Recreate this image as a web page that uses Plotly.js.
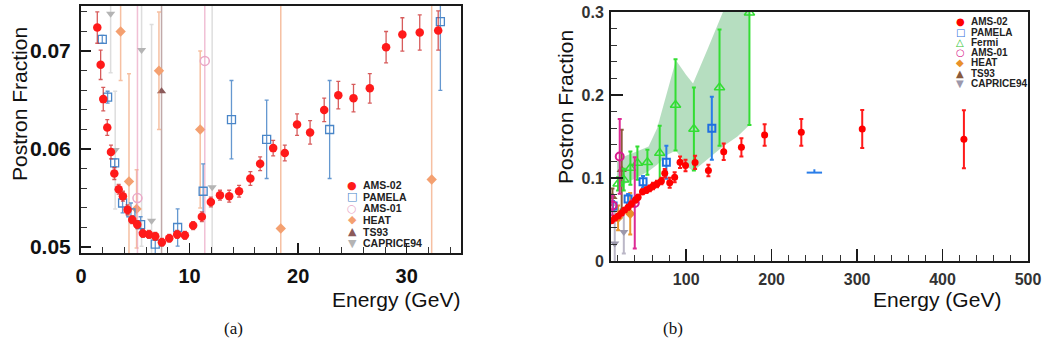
<!DOCTYPE html>
<html><head><meta charset="utf-8">
<script src="https://cdn.plot.ly/plotly-3.0.1.min.js"></script>
<style>html,body{margin:0;padding:0;background:#fff}#chart{width:1050px;height:350px}</style>
</head><body><div id="chart"></div>
<script>
// ================= Panel (a) data =================
const amsA_E   = [1.5, 1.81, 2.05, 2.42, 2.76, 3.07, 3.47, 3.86, 4.29, 4.72, 5.18, 5.7, 6.26, 6.84, 7.45, 8.13, 8.86, 9.57, 10.33, 11.13, 11.96, 12.8, 13.65, 14.56, 15.6, 16.5, 17.7, 18.77, 19.9, 21.1, 22.4, 23.7, 25.1, 26.6, 28.1, 29.6, 31.2, 32.9];
const amsA_V   = [0.0724, 0.0686, 0.0651, 0.0622, 0.0597, 0.0575, 0.0559, 0.0552, 0.0538, 0.0528, 0.0523, 0.0514, 0.0513, 0.0511, 0.0505, 0.0509, 0.0513, 0.0512, 0.0522, 0.0531, 0.0546, 0.0553, 0.0552, 0.0557, 0.0570, 0.0585, 0.0601, 0.0596, 0.0625, 0.0617, 0.0640, 0.0655, 0.0652, 0.0662, 0.0704, 0.0717, 0.0719, 0.0721];
const amsA_Err = [0.0016, 0.0015, 0.0012, 0.0008, 0.0007, 0.0006, 0.0005, 0.0005, 0.0005, 0.0004, 0.0004, 0.0004, 0.0004, 0.0004, 0.0004, 0.0004, 0.0004, 0.0004, 0.0004, 0.0005, 0.0005, 0.0005, 0.0006, 0.0006, 0.0007, 0.0007, 0.0008, 0.0008, 0.0011, 0.0012, 0.0012, 0.0014, 0.0014, 0.0015, 0.0016, 0.0017, 0.0018, 0.0020];

const pamA_E   = [1.96, 2.45, 3.1, 3.83, 4.6, 5.49, 6.84, 8.9, 11.25, 13.86, 17.1, 22.9, 33.1];
const pamA_V   = [0.0712, 0.0653, 0.0586, 0.0545, 0.0535, 0.0523, 0.0503, 0.0520, 0.0557, 0.0630, 0.0610, 0.0620, 0.0730];
const pamA_Err = [0.0004, 0.0006, 0.0004, 0.0010, 0.0010, 0.0008, 0.0011, 0.0019, 0.0028, 0.0040, 0.0040, 0.0050, 0.0070];

const ams01A_E   = [5.2, 11.4];
const ams01A_V   = [0.0550, 0.0690];
const ams01A_Err = [0.03, 0.03];

const heatA_E   = [3.65, 4.42, 5.12, 7.18, 10.98, 18.4, 32.3];
const heatA_V   = [0.0720, 0.0567, 0.0539, 0.0680, 0.0620, 0.0519, 0.0569];
const heatA_Err = [0.005, 0.011, 0.004, 0.006, 0.008, 0.03, 0.03];

const ts93A_E   = [7.42];
const ts93A_V   = [0.0659];
const ts93A_Err = [0.03];

const capA_E   = [2.73, 3.15, 5.58, 6.5, 12.08];
const capA_V   = [0.0738, 0.0599, 0.0701, 0.0527, 0.0561];
const capA_Err = [0.006, 0.006, 0.02, 0.02, 0.02];

// ================= Panel (b) data =================
const amsB_E   = [12.5, 16.4, 20.3, 24.2, 28, 32, 35.9, 40.6, 43.7, 48.8, 53.5, 57.3, 61.2, 65.8, 71, 74.9, 80.7, 86.5, 92.8, 99.2, 110.4, 126, 143.9, 164.6, 191.8, 234.7, 306, 425];
const amsB_V   = [0.0486, 0.0514, 0.0542, 0.0575, 0.0614, 0.0647, 0.0687, 0.0735, 0.0767, 0.0835, 0.0855, 0.0876, 0.0904, 0.0928, 0.0964, 0.1057, 0.0943, 0.1008, 0.119, 0.115, 0.1187, 0.109, 0.1317, 0.137, 0.1518, 0.155, 0.159, 0.1466];
const amsB_Err = [0.002, 0.002, 0.002, 0.0025, 0.0025, 0.003, 0.003, 0.003, 0.003, 0.003, 0.0035, 0.0035, 0.004, 0.004, 0.004, 0.005, 0.006, 0.006, 0.007, 0.007, 0.008, 0.007, 0.010, 0.011, 0.013, 0.016, 0.023, 0.035];

const pamB_E   = [14.4, 32, 49.5, 76.8, 130];
const pamB_V   = [0.0663, 0.0747, 0.0955, 0.119, 0.160];
const pamB_Err = [0.006, 0.006, 0.007, 0.02, 0.038];
const pamBHigh_E = [250];
const pamBHigh_V = [0.1065];
const pamBHigh_Ex = [9];
const pamBHigh_Eyp = [0.004];

const fermiB_E   = [20.3, 26.9, 34.7, 42.9, 54.6, 69, 87.5, 109, 139, 174];
const fermiB_V   = [0.093, 0.098, 0.112, 0.118, 0.119, 0.130, 0.188, 0.159, 0.209, 0.299];
const fermiB_Err = [0.008, 0.013, 0.02, 0.02, 0.015, 0.033, 0.055, 0.05, 0.07, 0.135];
const fermiBand_E  = [19, 30, 40, 56, 66, 78, 88, 100, 108, 125, 143, 160, 174];
const fermiBand_Hi = [0.120, 0.127, 0.131, 0.138, 0.160, 0.205, 0.242, 0.224, 0.214, 0.255, 0.300, 0.300, 0.300];
const fermiBand_Lo = [0.088, 0.094, 0.100, 0.108, 0.116, 0.128, 0.133, 0.115, 0.108, 0.122, 0.138, 0.150, 0.164];

const ams01B_E   = [13.7, 22.2, 39.8];
const ams01B_V   = [0.067, 0.126, 0.070];
const ams01B_Err = [0.012, 0.045, 0.055];

const heatB_E   = [20.3, 34.5];
const heatB_V   = [0.052, 0.057];
const heatB_Err = [0.015, 0.025];

const ts93B_E   = [13.7, 24.5];
const ts93B_V   = [0.0775, 0.110];
const ts93B_Err = [0.01, 0.048];

const capB_E   = [16.4, 27];
const capB_V   = [0.021, 0.035];
const capB_Err = [0.04, 0.026];

// ================= Legends (text) =================
const legendA_names  = ['AMS-02', 'PAMELA', 'AMS-01', 'HEAT', 'TS93', 'CAPRICE94'];
const legendA_glyphs = ['●', '□', '○', '◆', '▲', '▼'];
const legendA_colors = ['#ff1a1a', '#4a86c8', '#eaa6c6', '#f4a070', '#8b5a5a', '#b4b4b4'];
const legendB_names  = ['AMS-02', 'PAMELA', 'Fermi', 'AMS-01', 'HEAT', 'TS93', 'CAPRICE94'];
const legendB_glyphs = ['●', '□', '△', '○', '◆', '▲', '▼'];
const legendB_colors = ['#ff0000', '#1f6fe0', '#2fc42f', '#d81b8e', '#e8902a', '#8a5a3c', '#9c98ac'];

// ================= Build =================
const W = 1050, H = 350;
const px = v => v / W;
const py = v => 1 - v / H;

function pts(name, xs, ys, errs, axes, marker, errColor, errThick, errWidth) {
  return {
    type: 'scatter', mode: 'markers', name: name,
    x: xs, y: ys, xaxis: axes[0], yaxis: axes[1],
    marker: marker,
    error_y: {type: 'data', array: errs, visible: true, color: errColor, thickness: errThick, width: errWidth},
    showlegend: false, cliponaxis: true
  };
}

const A = ['x', 'y'], B = ['x2', 'y2'];

const traces = [
  // panel a — background experiments first
  pts('CAPRICE94', capA_E, capA_V, capA_Err, A, {symbol: 'triangle-down', size: 8, color: '#b4b4b4'}, 'rgba(180,180,180,0.45)', 1.5, 2),
  pts('TS93', ts93A_E, ts93A_V, ts93A_Err, A, {symbol: 'triangle-up', size: 8, color: '#8b5a5a'}, 'rgba(140,100,100,0.55)', 1.5, 2),
  pts('HEAT', heatA_E, heatA_V, heatA_Err, A, {symbol: 'diamond', size: 8, color: '#f4a070'}, 'rgba(240,150,100,0.6)', 1.5, 2),
  pts('AMS-01', ams01A_E, ams01A_V, ams01A_Err, A, {symbol: 'circle-open', size: 9, color: '#eaa6c6', line: {width: 1.5}}, 'rgba(232,150,185,0.6)', 1.5, 2),
  pts('PAMELA', pamA_E, pamA_V, pamA_Err, A, {symbol: 'square-open', size: 8, color: '#4a86c8', line: {width: 1.3}}, 'rgba(74,134,200,0.85)', 1.3, 2),
  pts('AMS-02', amsA_E, amsA_V, amsA_Err, A, {symbol: 'circle', size: 8.5, color: '#ff1a1a'}, 'rgba(205,50,50,0.8)', 1.3, 2),

  // panel b
  {type: 'scatter', mode: 'lines', name: 'Fermi band', xaxis: 'x2', yaxis: 'y2',
   x: fermiBand_E.concat(fermiBand_E.slice().reverse()),
   y: fermiBand_Hi.concat(fermiBand_Lo.slice().reverse()),
   fill: 'toself', fillcolor: 'rgba(110,190,130,0.5)', line: {width: 0}, showlegend: false, hoverinfo: 'skip'},
  pts('CAPRICE94', capB_E, capB_V, capB_Err, B, {symbol: 'triangle-down', size: 8, color: '#9c98ac'}, 'rgba(170,165,185,0.8)', 2, 2),
  pts('HEAT', heatB_E, heatB_V, heatB_Err, B, {symbol: 'diamond', size: 8, color: '#e8902a'}, '#e8962f', 2, 2),
  pts('TS93', ts93B_E, ts93B_V, ts93B_Err, B, {symbol: 'triangle-up', size: 9, color: '#8a5a3c'}, '#8a5a3c', 2, 2),
  pts('Fermi', fermiB_E, fermiB_V, fermiB_Err, B, {symbol: 'triangle-up-open', size: 9, color: '#33dd33', line: {width: 1.5}}, '#33dd33', 2, 2),
  pts('PAMELA', pamB_E, pamB_V, pamB_Err, B, {symbol: 'square-open', size: 7, color: '#1f6fe0', line: {width: 2}}, '#2a7de8', 2, 2),
  {type: 'scatter', mode: 'markers', name: 'PAMELA', xaxis: 'x2', yaxis: 'y2',
   x: pamBHigh_E, y: pamBHigh_V, marker: {size: 1, color: 'rgba(0,0,0,0)'},
   error_x: {type: 'data', array: pamBHigh_Ex, visible: true, color: '#2a7de8', thickness: 2, width: 0},
   error_y: {type: 'data', symmetric: false, array: pamBHigh_Eyp, arrayminus: [0], visible: true, color: '#2a7de8', thickness: 2, width: 0},
   showlegend: false},
  pts('AMS-01', ams01B_E, ams01B_V, ams01B_Err, B, {symbol: 'circle-open', size: 8, color: '#d81b8e', line: {width: 2}}, '#dd2a95', 2, 2),
  pts('AMS-02', amsB_E, amsB_V, amsB_Err, B, {symbol: 'circle', size: 7, color: '#ff0000'}, '#ff1a1a', 2, 2)
];

const axisLine = {showline: true, linewidth: 2, linecolor: '#1a1a1a', mirror: true, showgrid: false, zeroline: false};

const layout = {
  width: W, height: H,
  margin: {l: 0, r: 0, t: 0, b: 0},
  paper_bgcolor: '#fff', plot_bgcolor: '#fff',
  showlegend: false,
  font: {family: 'Liberation Sans, Arial, sans-serif', color: '#111'},
  xaxis: Object.assign({}, axisLine, {
    domain: [px(81), px(461)], range: [0, 35], anchor: 'y',
    tick0: 0, dtick: 10, ticks: 'inside', ticklen: 10, tickwidth: 1.5, tickcolor: '#1a1a1a',
    minor: {dtick: 2, ticks: 'inside', ticklen: 6, tickwidth: 1, tickcolor: '#333'},
    tickfont: {family: 'Liberation Sans', size: 20, weight: 'bold', color: '#111'},
    ticklabelstandoff: 4
  }),
  yaxis: Object.assign({}, axisLine, {
    domain: [py(253), py(6)], range: [0.0494, 0.0746], anchor: 'x',
    tick0: 0.05, dtick: 0.01, tickformat: '.2f', ticks: 'inside', ticklen: 10, tickwidth: 1.5, tickcolor: '#1a1a1a',
    minor: {dtick: 0.002, ticks: 'inside', ticklen: 6, tickwidth: 1, tickcolor: '#333'},
    tickfont: {family: 'Liberation Sans', size: 21, weight: 'bold', color: '#111'},
    ticklabelstandoff: 4
  }),
  xaxis2: Object.assign({}, axisLine, {
    domain: [px(611), px(1028)], range: [12, 500], anchor: 'y2',
    tick0: 0, dtick: 100, ticks: 'inside', ticklen: 12, tickwidth: 1.5, tickcolor: '#1a1a1a',
    minor: {dtick: 20, ticks: 'inside', ticklen: 6, tickwidth: 1, tickcolor: '#333'},
    tickfont: {family: 'Liberation Sans', size: 16, weight: 'bold', color: '#333'},
    ticklabelstandoff: 3
  }),
  yaxis2: Object.assign({}, axisLine, {
    domain: [py(261), py(12)], range: [0, 0.3], anchor: 'x2',
    tick0: 0, dtick: 0.1, ticks: 'inside', ticklen: 12, tickwidth: 1.5, tickcolor: '#1a1a1a',
    minor: {dtick: 0.02, ticks: 'inside', ticklen: 6, tickwidth: 1, tickcolor: '#333'},
    tickfont: {family: 'Liberation Sans', size: 16, weight: 'bold', color: '#333'},
    ticklabelstandoff: 2
  }),
  annotations: []
};

const ann = layout.annotations;
function addText(text, x, y, opts) {
  ann.push(Object.assign({text: text, x: px(x), y: py(y), xref: 'paper', yref: 'paper', showarrow: false,
    xanchor: 'center', yanchor: 'middle', font: {family: 'Liberation Sans', size: 21, color: '#111'}}, opts || {}));
}
// axis titles
addText('Postron Fraction', 19, 104, {textangle: -90});
addText('Energy (GeV)', 462, 299, {xanchor: 'right'});
addText('Postron Fraction', 565, 107, {textangle: -90});
addText('Energy (GeV)', 1003, 299, {xanchor: 'right'});
// captions
addText('(a)', 233, 328, {font: {family: 'Liberation Serif', size: 17, color: '#111'}});
addText('(b)', 673, 328, {font: {family: 'Liberation Serif', size: 17, color: '#111'}});

// legends
legendA_names.forEach((n, i) => {
  const y = 185 + i * 11.65;
  addText(legendA_glyphs[i], 352, y, {font: {family: 'DejaVu Sans', size: 11, color: legendA_colors[i]}});
  addText(n, 361, y, {xanchor: 'left', font: {family: 'Liberation Sans', size: 10.5, weight: 'bold', color: '#222'}});
});
legendB_names.forEach((n, i) => {
  const y = 22 + i * 10.2;
  addText(legendB_glyphs[i], 960, y, {font: {family: 'DejaVu Sans', size: 10, weight: 'bold', color: legendB_colors[i]}});
  addText(n, 969, y, {xanchor: 'left', font: {family: 'Liberation Sans', size: 10, weight: 'bold', color: '#222'}});
});

Plotly.newPlot('chart', traces, layout, {staticPlot: true, displayModeBar: false});
</script>
</body></html>
